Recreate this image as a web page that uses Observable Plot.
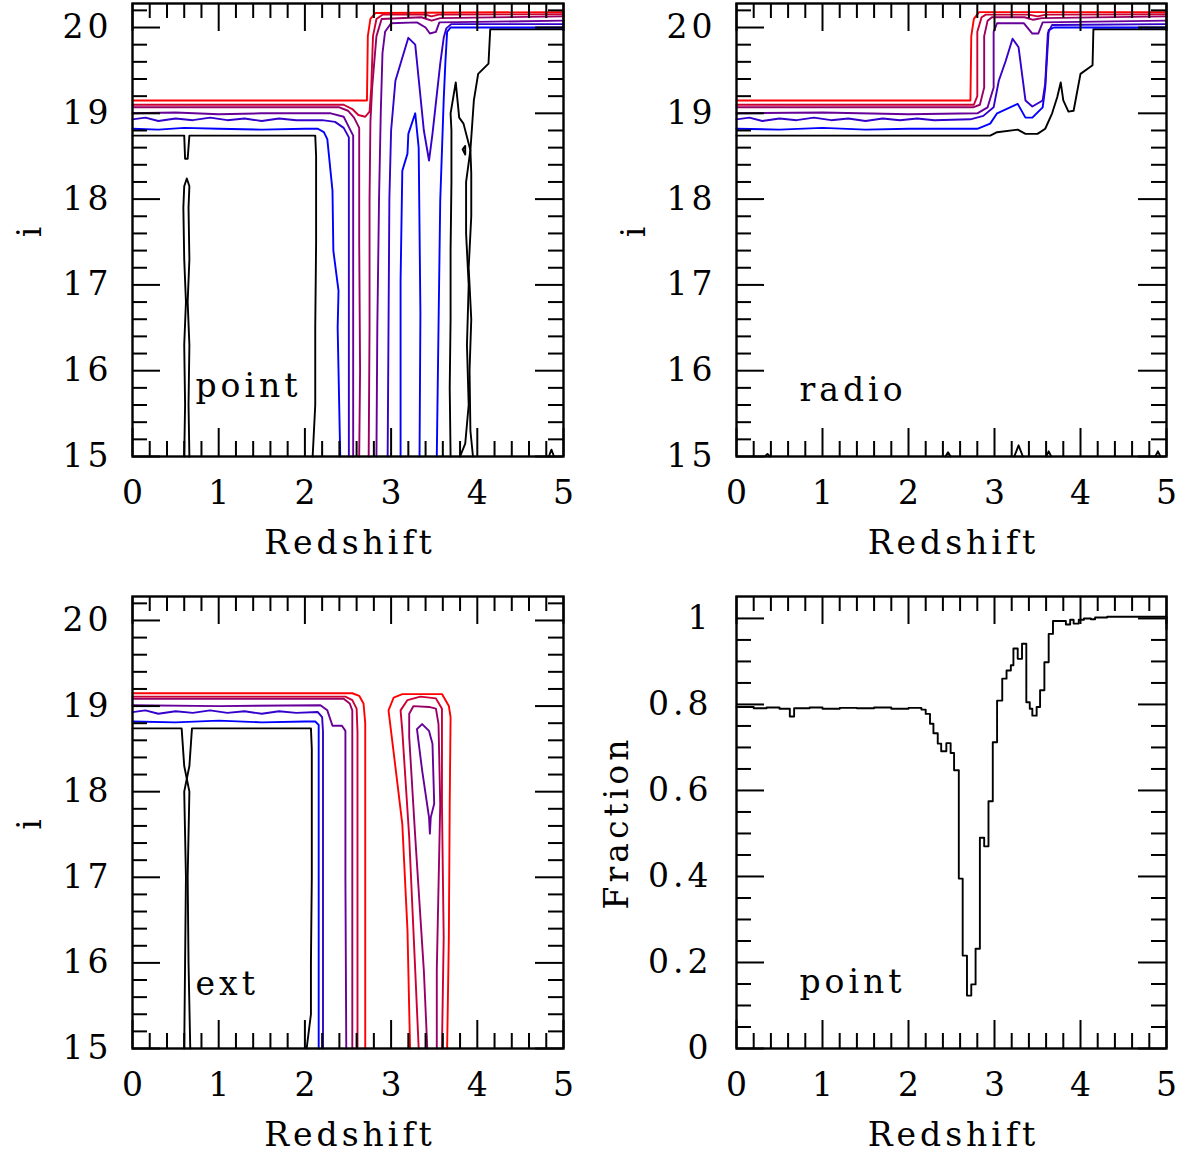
<!DOCTYPE html>
<html><head><meta charset="utf-8">
<script src="https://cdn.jsdelivr.net/npm/d3@7"></script>
<script src="https://cdn.jsdelivr.net/npm/@observablehq/plot@0.6"></script>
<style>
body{margin:0;background:#fff;}
#wrap{position:relative;width:1185px;height:1155px;overflow:hidden;}
#wrap svg{position:absolute;overflow:visible;}
</style></head><body><div id="wrap"></div>
<script>
// ---------- tick values ----------
const xMajorTicks = [0, 1, 2, 3, 4, 5];
const xMinorTicks = [0.2,0.4,0.6,0.8,1.2,1.4,1.6,1.8,2.2,2.4,2.6,2.8,3.2,3.4,3.6,3.8,4.2,4.4,4.6,4.8];
const iMajorTicks = [15, 16, 17, 18, 19, 20];
const iMinorTicks = [15.2,15.4,15.6,15.8,16.2,16.4,16.6,16.8,17.2,17.4,17.6,17.8,18.2,18.4,18.6,18.8,19.2,19.4,19.6,19.8,20.2];
const fracMajorTicks = [0, 0.2, 0.4, 0.6, 0.8, 1];
const fracTickLabels = ["0", "0.2", "0.4", "0.6", "0.8", "1"];
const fracMinorTicks = [0.05,0.1,0.15,0.25,0.3,0.35,0.45,0.5,0.55,0.65,0.7,0.75,0.85,0.9,0.95];
const panelTags = ["point", "radio", "ext", "point"];

// ---------- contour levels (lowest to highest) ----------
const levelNames = ["black", "blue", "violet", "purple", "magenta", "crimson", "red"];

// ---------- panel 1: point  [redshift, i] polylines ----------
const pointBlack = [
  [[0,18.74],[0.6,18.74],[0.61,18.47],[0.64,18.47],[0.66,18.74],[2.12,18.74],[2.13,18.5],[2.13,17.5],[2.12,16.5],[2.12,15.6],[2.09,15]],
  [[0.6,15],[0.61,15.6],[0.6,16.3],[0.62,16.8],[0.6,17.3],[0.59,17.9],[0.6,18.15],[0.63,18.24],[0.66,18.15],[0.65,17.9],[0.66,17.3],[0.64,16.8],[0.66,16.3],[0.65,15.6],[0.66,15]],
  [[3.8,15],[3.86,15.15],[3.9,15.6],[3.88,16.3],[3.9,17.0],[3.87,17.6],[3.87,18.2],[3.92,18.57],[3.84,18.88],[3.79,18.95],[3.75,19.36],[3.69,19.0],[3.7,18.8],[3.7,18.2],[3.69,17.4],[3.69,16.6],[3.68,15.8],[3.69,15]],
  [[3.95,15],[3.92,15.3],[3.91,16],[3.93,16.6],[3.9,17.2],[3.93,17.8],[3.93,18.3],[3.92,18.57],[3.96,19.15],[4.01,19.46],[4.13,19.58],[4.15,19.98],[5,19.98]],
  [[3.83,18.58],[3.86,18.62],[3.86,18.52],[3.83,18.58]],
  [[4.83,15],[4.86,15.08],[4.89,15]]
];
const pointBlue = [
  [[0,18.82],[0.3,18.81],[0.6,18.83],[1.0,18.82],[1.5,18.81],[2.0,18.82],[2.15,18.82],[2.22,18.78],[2.26,18.7],[2.32,18.1],[2.33,17.4],[2.39,16.93],[2.38,16.5],[2.41,15]],
  [[3.11,15],[3.11,16.2],[3.11,17.05],[3.13,18.33],[3.19,18.53],[3.2,18.76],[3.28,19.0],[3.32,18.6],[3.34,16.67],[3.33,15]],
  [[3.53,15],[3.55,16.5],[3.57,17.98],[3.61,19.15],[3.63,19.6],[3.65,19.95],[3.69,20.0],[5,20.0]]
];
const pointViolet = [
  [[0,18.93],[0.15,18.95],[0.3,18.91],[0.5,18.94],[0.7,18.92],[0.9,18.95],[1.1,18.92],[1.3,18.94],[1.5,18.91],[1.7,18.94],[1.9,18.92],[2.2,18.92],[2.35,18.9],[2.45,18.83],[2.51,18.72],[2.51,17],[2.51,15]],
  [[2.96,15],[2.97,16.5],[2.98,18.0],[3.0,18.8],[3.05,19.38],[3.11,19.58],[3.2,19.88],[3.28,19.8],[3.38,18.8],[3.44,18.45],[3.48,18.76],[3.57,19.58],[3.61,19.88],[3.64,19.99],[3.7,20.04],[5,20.04]]
];
const pointPurple = [
  [[0,19.0],[0.5,19.01],[1.0,18.99],[1.5,19.0],[2.3,19.0],[2.45,18.96],[2.49,18.88],[2.56,18.74],[2.56,17.5],[2.56,15]],
  [[2.83,15],[2.84,16.5],[2.86,18.0],[2.88,19.0],[2.9,19.7],[2.93,19.95],[3.0,20.05],[3.3,20.06],[3.4,20.0],[3.45,19.93],[3.52,19.95],[3.56,20.06],[5,20.08]]
];
const pointMagenta = [
  [[0,19.07],[2.4,19.07],[2.5,19.03],[2.57,18.95],[2.63,18.83],[2.63,17.5],[2.64,16],[2.63,15]],
  [[2.74,15],[2.75,16.5],[2.75,18.0],[2.76,18.9],[2.78,19.3],[2.83,19.9],[2.89,20.1],[3.35,20.12],[3.47,20.08],[3.57,20.11],[5,20.13]]
];
const pointCrimson = [
  [[0,19.1],[2.45,19.1],[2.55,19.05],[2.62,18.98],[2.7,18.96],[2.75,19.02],[2.77,19.3],[2.79,19.9],[2.83,20.1],[2.9,20.15],[3.4,20.15],[3.47,20.13],[3.55,20.15],[5,20.155]]
];
const pointRed = [
  [[0,19.15],[2.72,19.15],[2.73,19.9],[2.76,20.1],[2.82,20.17],[5,20.18]]
];

// ---------- panel 2: radio ----------
const radioBlack = [
  [[0,18.74],[1.0,18.74],[2.0,18.74],[2.95,18.74],[3.03,18.78],[3.27,18.81],[3.36,18.76],[3.5,18.76],[3.59,18.82],[3.67,19.0],[3.73,19.19],[3.77,19.36],[3.8,19.15],[3.86,19.02],[3.92,19.03],[4.0,19.46],[4.14,19.56],[4.15,19.98],[5,19.98]],
  [[0.33,15],[0.36,15.03],[0.39,15]],
  [[2.43,15],[2.46,15.05],[2.49,15]],
  [[3.23,15],[3.28,15.13],[3.33,15]],
  [[3.6,15],[3.63,15.06],[3.66,15]],
  [[4.87,15],[4.9,15.06],[4.93,15]]
];
const radioBlue = [
  [[0,18.82],[0.5,18.81],[1.0,18.83],[1.5,18.81],[2.0,18.82],[2.8,18.82],[2.95,18.88],[3.03,19.0],[3.27,19.11],[3.36,18.95],[3.44,18.95],[3.56,19.07],[3.59,19.3],[3.63,19.97],[3.69,20.0],[5,20.0]]
];
const radioViolet = [
  [[0,18.93],[0.15,18.95],[0.3,18.91],[0.5,18.94],[0.7,18.92],[0.9,18.95],[1.1,18.92],[1.3,18.94],[1.5,18.91],[1.7,18.94],[1.9,18.92],[2.1,18.94],[2.3,18.92],[2.72,18.93],[2.87,18.97],[2.99,19.07],[3.05,19.38],[3.13,19.61],[3.21,19.87],[3.28,19.77],[3.36,19.15],[3.44,19.08],[3.56,19.15],[3.59,19.35],[3.62,19.93],[3.67,20.03],[5,20.04]]
];
const radioPurple = [
  [[0,19.0],[1.0,19.01],[2.0,18.99],[2.8,19.0],[2.92,19.07],[2.99,19.3],[2.99,19.95],[3.03,20.05],[3.34,20.05],[3.44,19.93],[3.51,19.93],[3.56,20.06],[5,20.08]]
];
const radioMagenta = [
  [[0,19.07],[2.75,19.07],[2.83,19.1],[2.88,19.3],[2.88,19.9],[2.92,20.08],[2.97,20.12],[3.35,20.12],[3.45,20.09],[3.55,20.11],[5,20.13]]
];
const radioCrimson = [
  [[0,19.1],[2.76,19.1],[2.8,19.2],[2.8,19.95],[2.85,20.12],[2.9,20.15],[3.4,20.15],[3.5,20.13],[3.6,20.15],[5,20.155]]
];
const radioRed = [
  [[0,19.15],[2.72,19.15],[2.73,19.9],[2.76,20.1],[2.82,20.18],[5,20.18]]
];

// ---------- panel 3: ext ----------
const extBlack = [
  [[0,18.74],[0.57,18.74],[0.6,18.3],[0.66,18.0],[0.64,17.0],[0.65,16.0],[0.67,15]],
  [[0.6,15],[0.61,16],[0.62,17],[0.6,18.0],[0.66,18.3],[0.69,18.74],[2.07,18.74],[2.08,18.5],[2.08,17],[2.07,16],[2.07,15.4],[2.02,15]]
];
const extBlue = [
  [[0,18.82],[0.5,18.81],[1.0,18.83],[1.5,18.81],[2.0,18.82],[2.12,18.82],[2.16,18.78],[2.16,17],[2.16,15]]
];
const extViolet = [
  [[0,18.93],[0.15,18.95],[0.3,18.91],[0.5,18.94],[0.7,18.92],[0.9,18.95],[1.1,18.92],[1.3,18.94],[1.5,18.91],[1.7,18.94],[1.9,18.92],[2.15,18.93],[2.2,18.87],[2.21,18.7],[2.21,17],[2.21,15]]
];
const extPurple = [
  [[0,19.01],[1.0,19.0],[2.18,19.01],[2.26,18.95],[2.32,18.77],[2.43,18.77],[2.47,18.71],[2.47,17],[2.48,15]],
  [[3.3,18.73],[3.36,18.79],[3.44,18.71],[3.48,18.56],[3.5,17.86],[3.46,17.7],[3.45,17.51],[3.44,17.7],[3.36,18.25],[3.3,18.73]]
];
const extMagenta = [
  [[0,19.085],[2.45,19.085],[2.52,19.03],[2.55,18.95],[2.55,18.5],[2.55,15]],
  [[3.42,15],[3.38,15.91],[3.28,17.47],[3.21,18.64],[3.21,18.91],[3.26,19.0],[3.44,18.99],[3.52,18.97],[3.55,18.79],[3.57,17.86],[3.53,15.91],[3.53,15]]
];
const extCrimson = [
  [[0,19.11],[2.47,19.11],[2.55,19.07],[2.6,18.97],[2.61,18.7],[2.61,17],[2.61,15]],
  [[3.32,15],[3.28,15.91],[3.21,17.47],[3.13,18.71],[3.11,18.95],[3.19,19.07],[3.34,19.11],[3.52,19.09],[3.59,18.97],[3.59,17.86],[3.61,16.3],[3.59,15]]
];
const extRed = [
  [[0,19.15],[2.55,19.15],[2.63,19.12],[2.68,19.03],[2.7,18.8],[2.7,17],[2.7,15]],
  [[3.22,15],[3.19,16.38],[3.13,17.62],[3.05,18.29],[2.97,18.95],[3.03,19.1],[3.13,19.14],[3.59,19.14],[3.67,19.0],[3.69,18.87],[3.68,17.86],[3.67,16.3],[3.65,15]]
];

// ---------- panel 4: fraction vs redshift (step starts) ----------
const fracZ = [0,0.2,0.35,0.5,0.62,0.67,0.85,1.0,1.2,1.4,1.6,1.8,2.0,2.15,2.2,2.25,2.29,2.34,2.38,2.44,2.49,2.53,2.585,2.63,2.68,2.73,2.78,2.83,2.88,2.93,2.98,3.03,3.09,3.14,3.19,3.22,3.27,3.32,3.37,3.41,3.44,3.49,3.53,3.58,3.63,3.68,3.83,3.88,3.92,3.98,4.04,4.12,4.17,4.31,5.0];
const fracV = [0.794,0.791,0.793,0.790,0.772,0.791,0.793,0.790,0.792,0.791,0.793,0.790,0.792,0.788,0.778,0.755,0.733,0.709,0.691,0.71,0.687,0.647,0.395,0.216,0.123,0.149,0.232,0.49,0.47,0.575,0.712,0.809,0.86,0.879,0.891,0.93,0.906,0.941,0.805,0.79,0.774,0.794,0.833,0.898,0.964,0.994,0.986,0.997,0.988,0.997,1.0,0.998,1.002,1.004,0.974];

// ---------- styles ----------
const levelColors = {black:"#000000", blue:"#0000ff", violet:"#3300cc", purple:"#660099", magenta:"#990066", crimson:"#cc0033", red:"#ff0000"};
const FONT = "DejaVu Serif";
const FS = 33;

const point = {black:pointBlack, blue:pointBlue, violet:pointViolet, purple:pointPurple, magenta:pointMagenta, crimson:pointCrimson, red:pointRed};
const radio = {black:radioBlack, blue:radioBlue, violet:radioViolet, purple:radioPurple, magenta:radioMagenta, crimson:radioCrimson, red:radioRed};
const ext = {black:extBlack, blue:extBlue, violet:extViolet, purple:extPurple, magenta:extMagenta, crimson:extCrimson, red:extRed};

function contourMarks(set) {
  const marks = [];
  for (const lev of levelNames) {
    const rows = [];
    set[lev].forEach((poly, k) => poly.forEach(([z, i]) => rows.push({z, i, key: k})));
    marks.push(Plot.line(rows, {x: "z", y: "i", z: "key", stroke: levelColors[lev], strokeWidth: 1.9, strokeLinejoin: "round"}));
  }
  return marks;
}

function tickMarks(fw, fh, yMajor, yMinor) {
  const M = 28, m = 15, sw = 2;
  return [
    Plot.tickX(xMajorTicks, {x: d => d, insetTop: fh - M, strokeWidth: sw}),
    Plot.tickX(xMajorTicks, {x: d => d, insetBottom: fh - M, strokeWidth: sw}),
    Plot.tickX(xMinorTicks, {x: d => d, insetTop: fh - m, strokeWidth: sw}),
    Plot.tickX(xMinorTicks, {x: d => d, insetBottom: fh - m, strokeWidth: sw}),
    Plot.tickY(yMajor, {y: d => d, insetRight: fw - M, strokeWidth: sw}),
    Plot.tickY(yMajor, {y: d => d, insetLeft: fw - M, strokeWidth: sw}),
    Plot.tickY(yMinor, {y: d => d, insetRight: fw - m, strokeWidth: sw}),
    Plot.tickY(yMinor, {y: d => d, insetLeft: fw - m, strokeWidth: sw})
  ];
}

function makePanel({left, top, H, mL, mT, mB, mR, yDomain, yMajor, yMinor, yLabels, yLabelDx, yTitle, yTitleDx, tag, tagDy, marks}) {
  const W = 590;
  const fw = W - mL - mR, fh = H - mT - mB;
  const txt = {fontFamily: FONT, fontSize: FS, fill: "black"};
  const svg = Plot.plot({
    width: W, height: H,
    marginLeft: mL, marginRight: mR, marginTop: mT, marginBottom: mB,
    x: {domain: [0, 5], axis: null},
    y: {domain: yDomain, axis: null},
    marks: [
      ...marks,
      ...tickMarks(fw, fh, yMajor, yMinor),
      Plot.frame({stroke: "black", strokeWidth: 2.4}),
      Plot.text(xMajorTicks, {x: d => d, frameAnchor: "bottom", dy: 37, dx: 2, text: d => String(d), textAnchor: "middle", lineAnchor: "middle", ...txt}),
      Plot.text(yMajor, {y: d => d, frameAnchor: "left", dx: yLabelDx, textAnchor: "end", lineAnchor: "middle", text: (d, k) => yLabels[k], ...txt}),
      Plot.text(["Redshift"], {frameAnchor: "bottom", dy: 87, dx: 2, textAnchor: "middle", lineAnchor: "middle", text: d => d, ...txt}),
      Plot.text([yTitle], {frameAnchor: "left", dx: yTitleDx, rotate: -90, textAnchor: "middle", lineAnchor: "middle", text: d => d, ...txt}),
      Plot.text([tag], {frameAnchor: "bottom-left", dx: 63, dy: tagDy, textAnchor: "start", lineAnchor: "middle", text: d => d, ...txt})
    ]
  });
  svg.style.left = left + "px";
  svg.style.top = top + "px";
  svg.style.letterSpacing = "4px";
  svg.style.background = "transparent";
  return svg;
}

const wrap = document.getElementById("wrap");
const iDomain = [15, 20.28];
const iLabels = iMajorTicks.map(String);

wrap.appendChild(makePanel({left: 0, top: 0, H: 578, mL: 132, mT: 3, mB: 122, mR: 27, yDomain: iDomain, yMajor: iMajorTicks, yMinor: iMinorTicks, yLabels: iLabels, yLabelDx: -20, yTitle: "i", yTitleDx: -102, tag: panelTags[0], tagDy: -70, marks: contourMarks(point)}));
wrap.appendChild(makePanel({left: 590, top: 0, H: 578, mL: 146, mT: 3, mB: 122, mR: 14, yDomain: iDomain, yMajor: iMajorTicks, yMinor: iMinorTicks, yLabels: iLabels, yLabelDx: -20, yTitle: "i", yTitleDx: -102, tag: panelTags[1], tagDy: -66, marks: contourMarks(radio)}));
wrap.appendChild(makePanel({left: 0, top: 578, H: 577, mL: 132, mT: 18, mB: 107, mR: 27, yDomain: iDomain, yMajor: iMajorTicks, yMinor: iMinorTicks, yLabels: iLabels, yLabelDx: -20, yTitle: "i", yTitleDx: -102, tag: panelTags[2], tagDy: -64, marks: contourMarks(ext)}));

const fracRows = fracZ.map((z, k) => ({z, f: fracV[k]}));
wrap.appendChild(makePanel({left: 590, top: 578, H: 577, mL: 146, mT: 18, mB: 107, mR: 14, yDomain: [0, 1.051], yMajor: fracMajorTicks, yMinor: fracMinorTicks, yLabels: fracTickLabels, yLabelDx: -24, yTitle: "Fraction", yTitleDx: -119, tag: panelTags[3], tagDy: -66,
  marks: [Plot.line(fracRows, {x: "z", y: "f", curve: "step-after", stroke: "black", strokeWidth: 1.9})]}));
</script></body></html>
